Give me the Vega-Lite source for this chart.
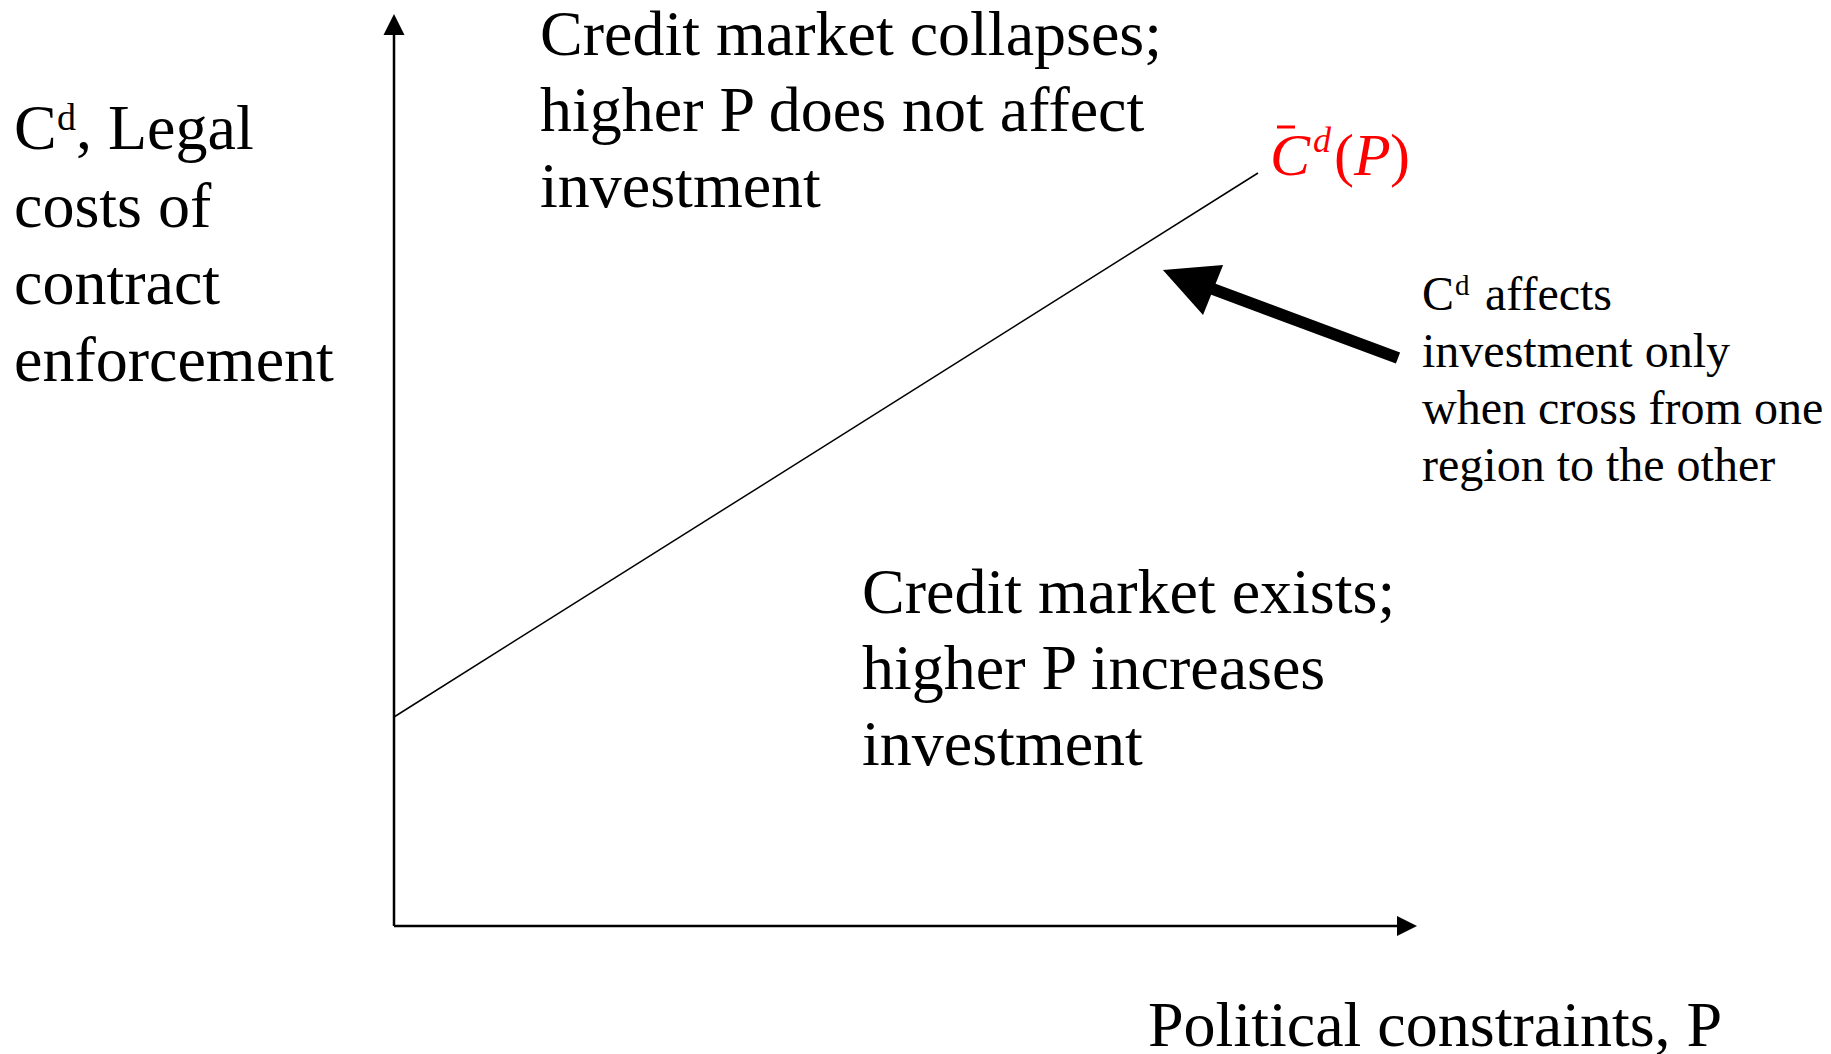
{
  "$schema": "https://vega.github.io/schema/vega-lite/v6.json",
  "width": 1831,
  "height": 1054,
  "padding": 0,
  "autosize": {"type": "none"},
  "background": "white",
  "config": {"view": {"stroke": null}},
  "datasets": {
    "curve": [{"P": 0, "C": 209}, {"P": 864, "C": 753}],
    "axes": [
      {"x1": 0, "y1": 0, "x2": 0, "y2": 893},
      {"x1": 0, "y1": 0, "x2": 1005, "y2": 0}
    ],
    "shaft": [{"x1": 800, "y1": 644, "x2": 1004, "y2": 568}],
    "yhead": [{"x": 0, "y": 901.5}],
    "xhead": [{"x": 1013, "y": 0}],
    "bighead": [{"x": 794, "y": 646}],
    "bar": [{"x1": 883, "x2": 901, "y": 799}],
    "serif64": [
      {"x": -380, "y": 777, "t": "C"},
      {"x": -318, "y": 777, "t": ", Legal"},
      {"x": -380, "y": 699, "t": "costs of"},
      {"x": -380, "y": 622, "t": "contract"},
      {"x": -380, "y": 545, "t": "enforcement"},
      {"x": 146, "y": 871, "t": "Credit market collapses;"},
      {"x": 146, "y": 795, "t": "higher P does not affect"},
      {"x": 146, "y": 719, "t": "investment"},
      {"x": 468, "y": 313, "t": "Credit market exists;"},
      {"x": 468, "y": 237, "t": "higher P increases"},
      {"x": 468, "y": 161, "t": "investment"},
      {"x": 754, "y": -120, "t": "Political constraints, P"}
    ],
    "sup38": [{"x": -337, "y": 796, "t": "d"}],
    "serif48": [
      {"x": 1028, "y": 616, "t": "C"},
      {"x": 1091, "y": 616, "t": "affects"},
      {"x": 1028, "y": 559, "t": "investment only"},
      {"x": 1028, "y": 502, "t": "when cross from one"},
      {"x": 1028, "y": 445, "t": "region to the other"}
    ],
    "sup29": [{"x": 1061, "y": 631, "t": "d"}],
    "redItalic": [
      {"x": 876, "y": 751, "t": "C"},
      {"x": 960, "y": 751, "t": "P"}
    ],
    "redSup": [{"x": 919, "y": 774, "t": "d"}],
    "redParen": [
      {"x": 940, "y": 751, "t": "("},
      {"x": 996, "y": 751, "t": ")"}
    ]
  },
  "layer": [
    {
      "data": {"name": "axes"},
      "mark": {"type": "rule", "color": "black", "strokeWidth": 2.5},
      "encoding": {
        "x": {"field": "x1", "type": "quantitative", "scale": {"domain": [-394, 1437], "nice": false, "zero": false}, "axis": null},
        "y": {"field": "y1", "type": "quantitative", "scale": {"domain": [-128, 926], "nice": false, "zero": false}, "axis": null},
        "x2": {"field": "x2"},
        "y2": {"field": "y2"}
      }
    },
    {
      "data": {"name": "curve"},
      "mark": {"type": "line", "color": "black", "strokeWidth": 1.5},
      "encoding": {
        "x": {"field": "P", "type": "quantitative"},
        "y": {"field": "C", "type": "quantitative"}
      }
    },
    {
      "data": {"name": "shaft"},
      "mark": {"type": "rule", "color": "black", "strokeWidth": 12, "strokeCap": "butt"},
      "encoding": {
        "x": {"field": "x1", "type": "quantitative"},
        "y": {"field": "y1", "type": "quantitative"},
        "x2": {"field": "x2"},
        "y2": {"field": "y2"}
      }
    },
    {
      "data": {"name": "yhead"},
      "mark": {"type": "point", "shape": "M0,-1L-1,1L1,1Z", "size": 441, "filled": true, "color": "black", "opacity": 1},
      "encoding": {
        "x": {"field": "x", "type": "quantitative"},
        "y": {"field": "y", "type": "quantitative"}
      }
    },
    {
      "data": {"name": "xhead"},
      "mark": {"type": "point", "shape": "M1,0L-1,-1L-1,1Z", "size": 400, "filled": true, "color": "black", "opacity": 1},
      "encoding": {
        "x": {"field": "x", "type": "quantitative"},
        "y": {"field": "y", "type": "quantitative"}
      }
    },
    {
      "data": {"name": "bighead"},
      "mark": {"type": "point", "shape": "M-1,0L1,-1L1,1Z", "size": 2916, "angle": 21.8, "filled": true, "color": "black", "opacity": 1},
      "encoding": {
        "x": {"field": "x", "type": "quantitative"},
        "y": {"field": "y", "type": "quantitative"}
      }
    },
    {
      "data": {"name": "bar"},
      "mark": {"type": "rule", "color": "#ff0000", "strokeWidth": 3},
      "encoding": {
        "x": {"field": "x1", "type": "quantitative"},
        "x2": {"field": "x2"},
        "y": {"field": "y", "type": "quantitative"}
      }
    },
    {
      "data": {"name": "serif64"},
      "mark": {"type": "text", "font": "Liberation Serif", "fontSize": 64, "align": "left", "baseline": "alphabetic", "color": "black"},
      "encoding": {
        "x": {"field": "x", "type": "quantitative"},
        "y": {"field": "y", "type": "quantitative"},
        "text": {"field": "t"}
      }
    },
    {
      "data": {"name": "sup38"},
      "mark": {"type": "text", "font": "Liberation Serif", "fontSize": 38, "align": "left", "baseline": "alphabetic", "color": "black"},
      "encoding": {
        "x": {"field": "x", "type": "quantitative"},
        "y": {"field": "y", "type": "quantitative"},
        "text": {"field": "t"}
      }
    },
    {
      "data": {"name": "serif48"},
      "mark": {"type": "text", "font": "Liberation Serif", "fontSize": 48, "align": "left", "baseline": "alphabetic", "color": "black"},
      "encoding": {
        "x": {"field": "x", "type": "quantitative"},
        "y": {"field": "y", "type": "quantitative"},
        "text": {"field": "t"}
      }
    },
    {
      "data": {"name": "sup29"},
      "mark": {"type": "text", "font": "Liberation Serif", "fontSize": 29, "align": "left", "baseline": "alphabetic", "color": "black"},
      "encoding": {
        "x": {"field": "x", "type": "quantitative"},
        "y": {"field": "y", "type": "quantitative"},
        "text": {"field": "t"}
      }
    },
    {
      "data": {"name": "redItalic"},
      "mark": {"type": "text", "font": "Liberation Serif", "fontStyle": "italic", "fontSize": 60, "align": "left", "baseline": "alphabetic", "color": "#ff0000"},
      "encoding": {
        "x": {"field": "x", "type": "quantitative"},
        "y": {"field": "y", "type": "quantitative"},
        "text": {"field": "t"}
      }
    },
    {
      "data": {"name": "redSup"},
      "mark": {"type": "text", "font": "Liberation Serif", "fontStyle": "italic", "fontSize": 36, "align": "left", "baseline": "alphabetic", "color": "#ff0000"},
      "encoding": {
        "x": {"field": "x", "type": "quantitative"},
        "y": {"field": "y", "type": "quantitative"},
        "text": {"field": "t"}
      }
    },
    {
      "data": {"name": "redParen"},
      "mark": {"type": "text", "font": "Liberation Serif", "fontSize": 60, "align": "left", "baseline": "alphabetic", "color": "#ff0000"},
      "encoding": {
        "x": {"field": "x", "type": "quantitative"},
        "y": {"field": "y", "type": "quantitative"},
        "text": {"field": "t"}
      }
    }
  ]
}
